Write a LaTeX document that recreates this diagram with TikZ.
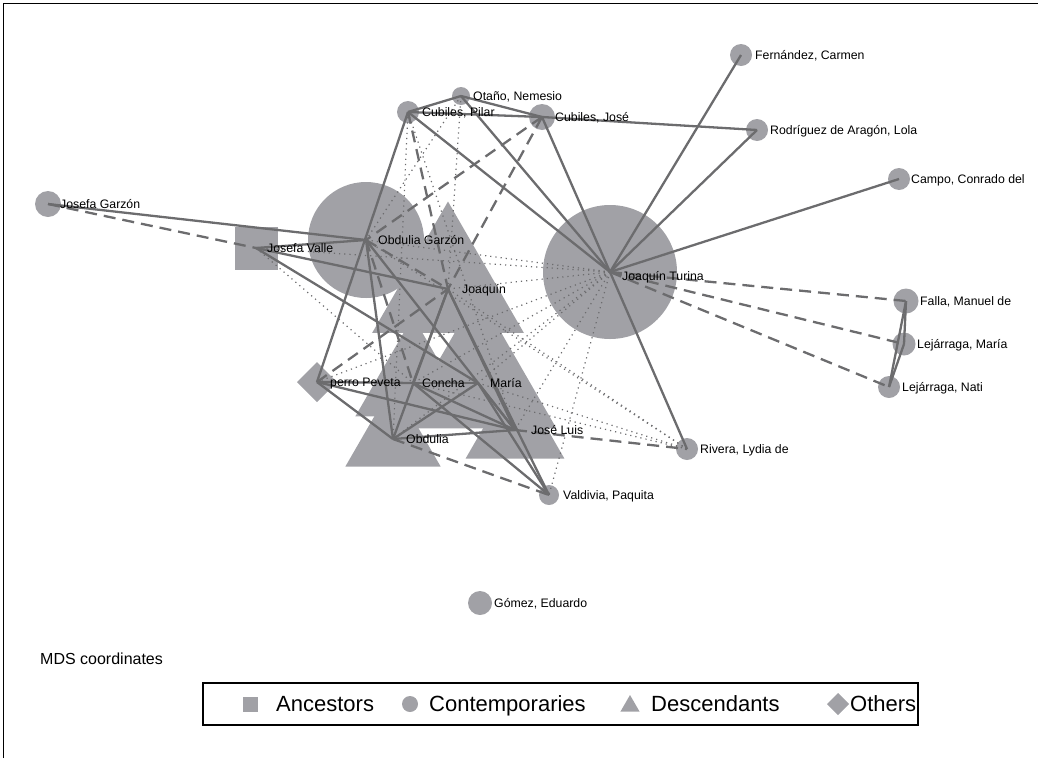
\documentclass[tikz,border=0pt]{standalone}
\usepackage{fontspec}
\setmainfont{Liberation Sans}
\usetikzlibrary{shapes.geometric}

\definecolor{markfill}{RGB}{161,161,166}
\definecolor{edgegray}{RGB}{108,108,110}

\tikzset{
  dot/.style={circle, fill=markfill, inner sep=0pt, outer sep=0pt, minimum size=#1},
  tri/.style={regular polygon, regular polygon sides=3, fill=markfill, inner sep=0pt, outer sep=0pt, minimum size=#1},
  sq/.style={rectangle, fill=markfill, inner sep=0pt, outer sep=0pt, minimum width=#1, minimum height=#1},
  dia/.style={diamond, fill=markfill, inner sep=0pt, outer sep=0pt, minimum width=#1, minimum height=#1},
  tie/.style={draw=edgegray, line width=2.3pt},
  link/.style={draw=edgegray, line width=2.3pt, dash pattern=on 12pt off 7pt},
  weak/.style={draw=edgegray, line width=1.2pt, dash pattern=on 1.2pt off 4pt},
  who/.style={anchor=base west, inner sep=0pt, xshift=#1, yshift=-4.3pt, font=\fontsize{12.3}{14}\selectfont},
  who/.default=12pt,
  keytext/.style={anchor=base west, inner sep=0pt, yshift=-7.8pt, font=\fontsize{22}{25}\selectfont},
}

\begin{document}
\begin{tikzpicture}[x=1pt,y=-1pt]
\useasboundingbox (0,0) rectangle (1038,758);
\draw[line width=1pt] (3,758) -- (3,3) -- (1038,3);

% markers
\node[dot=26pt] (jg) at (48,204) {};
\node[sq=43pt] (jv) at (256,248) {};
\node[dot=116pt] (og) at (366,240) {};
\node[tri=175pt] (jq) at (448,289) {};
\node[tri=133pt] (co) at (413,383) {};
\node[tri=181pt] (ma) at (478,383) {};
\node[tri=110pt] (ob) at (393,439) {};
\node[tri=114pt] (jl) at (515,430) {};
\node[dia=40pt] (pp) at (317,382) {};
\node[dot=134pt] (jt) at (610,272) {};
\node[dot=18pt] (ot) at (461,96) {};
\node[dot=22pt] (cp) at (408,112) {};
\node[dot=26pt] (cj) at (542,117) {};
\node[dot=22pt] (fe) at (741,55) {};
\node[dot=22pt] (ro) at (757,130) {};
\node[dot=22pt] (ca) at (899,179) {};
\node[dot=25pt] (fa) at (906,301) {};
\node[dot=23pt] (lm) at (904,344) {};
\node[dot=22pt] (ln) at (889,387) {};
\node[dot=22pt] (ri) at (687,449) {};
\node[dot=20pt] (va) at (549,495) {};
\node[dot=24pt] (go) at (480,603) {};

% weak ties
\foreach \a/\b in {ot/og, ot/jq, cp/jl, cp/ob, jv/jt, jv/co, jt/og, jt/jq, jt/co, jt/ma,
                   jt/ob, jt/jl, jt/pp, jt/va, ri/jq, ri/ma, ri/co, ri/og}
  \draw[weak] (\a.center) -- (\b.center);

% dashed ties
\foreach \a/\b in {jg/jv, cp/jq, cj/og, cj/jq, og/jq, og/co, pp/jq, ob/va, jl/ri,
                   jt/fa, jt/lm, jt/ln}
  \draw[link] (\a.center) -- (\b.center);

% strong ties
\foreach \a/\b in {jg/og, jv/og, jv/jq, jv/ma, cp/ot, cp/cj, ot/cj, cj/ro, cp/jt, ot/jt,
                   cj/jt, jt/fe, jt/ro, jt/ca, jt/ri, cp/pp, og/ob, og/jl, jq/ob, jq/jl,
                   jq/va, jq/co, pp/co, co/ma, pp/ob, pp/jl, co/jl, co/va, ma/ob, ma/jl,
                   ma/va, ob/jl, fa/lm, fa/ln, lm/ln}
  \draw[tie] (\a.center) -- (\b.center);

% names
\node[who] (jg-t) at (jg) {Josefa Garzón};
\node[who=11pt] (jv-t) at (jv) {Josefa Valle};
\node[who] (og-t) at (og) {Obdulia Garzón};
\node[who=14pt] (jq-t) at (jq) {Joaquín};
\node[who=9pt] (co-t) at (co) {Concha};
\node[who] (ma-t) at (ma) {María};
\node[who=13pt] (pp-t) at (pp) {perro Peveta};
\node[who=13pt] (ob-t) at (ob) {Obdulia};
\node[who=16pt] (jl-t) at (jl) {José Luis};
\node[who, yshift=-4pt] (jt-t) at (jt) {Joaquín Turina};
\node[who] (ot-t) at (ot) {Otaño, Nemesio};
\node[who=14pt] (cp-t) at (cp) {Cubiles, Pilar};
\node[who=13pt] (cj-t) at (cj) {Cubiles, José};
\node[who=14pt] (fe-t) at (fe) {Fernández, Carmen};
\node[who=13pt] (ro-t) at (ro) {Rodríguez de Aragón, Lola};
\node[who] (ca-t) at (ca) {Campo, Conrado del};
\node[who=14pt] (fa-t) at (fa) {Falla, Manuel de};
\node[who=13pt] (lm-t) at (lm) {Lejárraga, María};
\node[who=13pt] (ln-t) at (ln) {Lejárraga, Nati};
\node[who=13pt] (ri-t) at (ri) {Rivera, Lydia de};
\node[who=14pt] (va-t) at (va) {Valdivia, Paquita};
\node[who=14pt] (go-t) at (go) {Gómez, Eduardo};

\node[anchor=base west, inner sep=0pt, font=\fontsize{16}{18}\selectfont] (mds) at (40,664) {MDS coordinates};

% legend
\draw[line width=1.4pt] (203,683) rectangle (918,725);
\node[sq=15pt] (k1) at (250,704) {};
\node[keytext] (k1-t) at (276,704) {Ancestors};
\node[dot=16pt] (k2) at (410,704) {};
\node[keytext] (k2-t) at (429,704) {Contemporaries};
\node[tri=22pt] (k3) at (630,706) {};
\node[keytext] (k3-t) at (651,704) {Descendants};
\node[dia=22pt] (k4) at (838,704) {};
\node[keytext] (k4-t) at (850,704) {Others};
\end{tikzpicture}
\end{document}
